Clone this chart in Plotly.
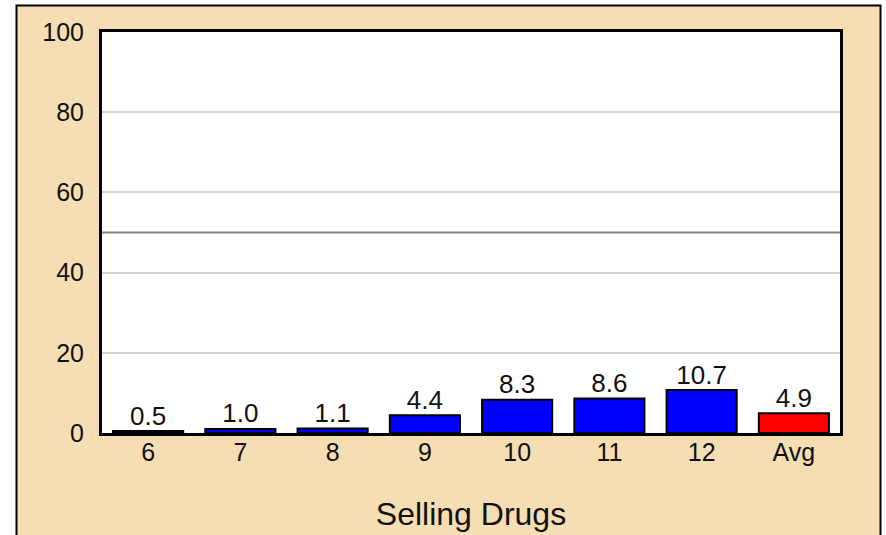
import plotly.graph_objects as go

categories = ["6", "7", "8", "9", "10", "11", "12", "Avg"]
values = [0.5, 1.0, 1.1, 4.4, 8.3, 8.6, 10.7, 4.9]
labels = ["0.5", "1.0", "1.1", "4.4", "8.3", "8.6", "10.7", "4.9"]
colors = ["#0000FF"] * 7 + ["#FF0000"]
y_ticks = [0, 20, 40, 60, 80, 100]
x_title = "Selling Drugs"
ref_value = 50

W, H = 886, 535
L, R, T, B = 102, 46, 32, 102
pw, ph = W - L - R, H - T - B

def px_to_paper_x(px):
    return (px - L) / pw

def px_to_paper_y(py):
    return (H - B - py) / ph

fig = go.Figure()
fig.add_trace(go.Bar(
    x=categories, y=values,
    marker=dict(color=colors, line=dict(color="black", width=2)),
    width=0.76, hoverinfo="skip",
))
fig.add_trace(go.Scatter(
    x=categories, y=values, mode="text",
    text=labels, textposition="top center", cliponaxis=False,
    textfont=dict(family="Liberation Sans, Arial", size=26, color="#111111"),
    hoverinfo="skip",
))

shapes = [
    dict(type="rect", xref="paper", yref="paper",
         x0=px_to_paper_x(16.5), x1=px_to_paper_x(880.5),
         y0=px_to_paper_y(560), y1=px_to_paper_y(5.5),
         fillcolor="#F5DEB3", line=dict(color="black", width=2), layer="below"),
    dict(type="rect", xref="paper", yref="paper", x0=0, x1=1, y0=0, y1=1,
         fillcolor="white", line=dict(width=0), layer="below"),
    dict(type="line", xref="paper", yref="y", x0=0, x1=1, y0=ref_value, y1=ref_value,
         line=dict(color="#808080", width=2), layer="below"),
]

fig.update_layout(
    width=W, height=H,
    margin=dict(l=L, r=R, t=T, b=B, autoexpand=False),
    paper_bgcolor="white", plot_bgcolor="white",
    shapes=shapes,
    showlegend=False,
    bargap=0.24,
    font=dict(family="Liberation Sans, Arial", size=25, color="#111111"),
    xaxis=dict(
        automargin=False,
        showline=True, linecolor="black", linewidth=3, mirror=True,
        showgrid=False, ticks="", tickfont=dict(size=25),
        ticklabelstandoff=-5,
        title=dict(text=x_title, font=dict(size=32), standoff=38),
    ),
    yaxis=dict(
        automargin=False,
        range=[0, 100], tickvals=y_ticks,
        showline=True, linecolor="black", linewidth=3, mirror=True,
        showgrid=True, gridcolor="#D3D3D3", gridwidth=2,
        zeroline=False, ticks="", tickfont=dict(size=25),
        ticklabelstandoff=10,
    ),
)

fig.write_html("out.html", config={"displayModeBar": False},
               post_script="document.body.style.margin='0';document.body.style.overflow='hidden';")
